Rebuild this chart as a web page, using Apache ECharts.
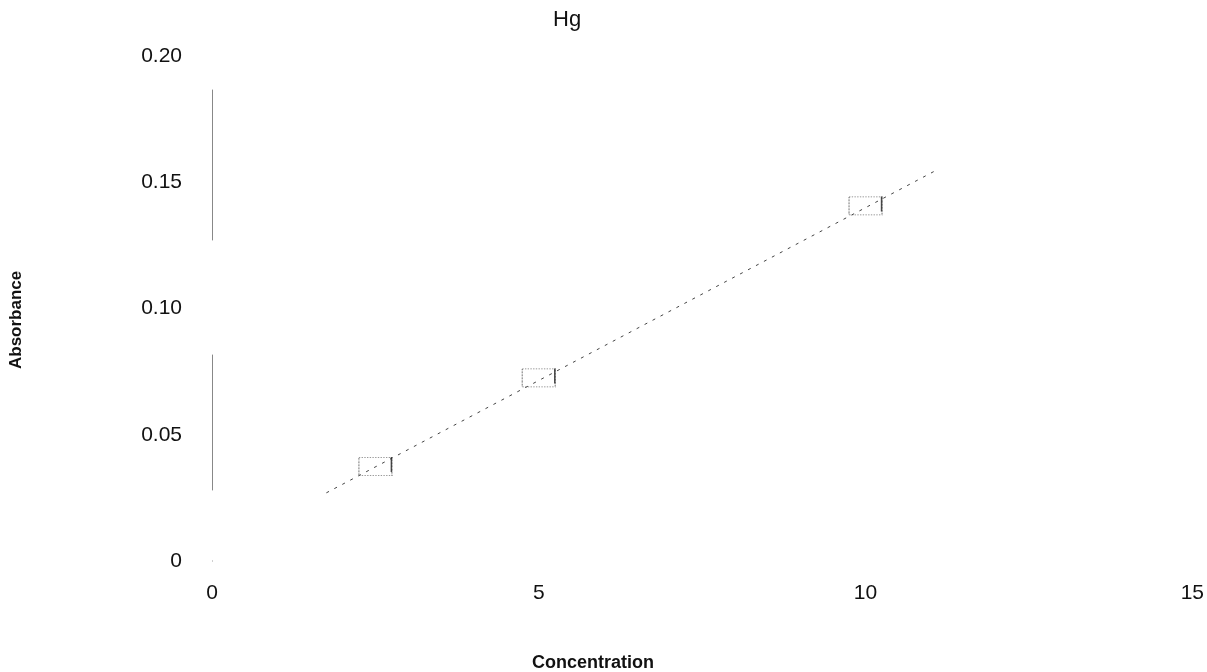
<!DOCTYPE html>
<html>
<head>
<meta charset="utf-8">
<script src="https://cdn.jsdelivr.net/npm/echarts@6/dist/echarts.min.js"></script>
<style>
html,body{margin:0;padding:0;background:#fff;}
#chart{width:1207px;height:672px;}
</style>
</head>
<body>
<div id="chart"></div>
<script>
// Calibration standards (Concentration vs Absorbance)
var concentrations = [2.5, 5, 10];
var absorbances = [0.0374, 0.0725, 0.1406];
// Fitted calibration line end points (visible part)
var fitX = [1.75, 11.1];
var fitY = [0.027, 0.155];
// Tick labels
var xTickLabels = ['0', '5', '10', '15'];
var yTickLabels = ['0', '0.05', '0.10', '0.15', '0.20'];

var font = '"Liberation Sans", Arial, sans-serif';
var chart = echarts.init(document.getElementById('chart'));

var stdData = concentrations.map(function (c, i) { return [c, absorbances[i]]; });
var fitData = fitX.map(function (x, i) { return [x, fitY[i]]; });

chart.setOption({
  backgroundColor: '#fff',
  animation: false,
  title: {
    text: 'Hg',
    left: 548,
    top: 4,
    textStyle: { fontFamily: font, fontSize: 22, fontWeight: 'normal', color: '#111' }
  },
  grid: { left: 212, right: 14, top: 56, bottom: 111, containLabel: false },
  xAxis: {
    type: 'value',
    min: 0, max: 15, interval: 5,
    axisLine: { show: false },
    axisTick: { show: false },
    splitLine: { show: false },
    axisLabel: {
      margin: 22,
      fontFamily: font, fontSize: 21, color: '#111',
      formatter: function (v) { return xTickLabels[Math.round(v / 5)]; }
    }
  },
  yAxis: {
    type: 'value',
    min: 0, max: 0.2, interval: 0.05,
    axisLine: { show: true, lineStyle: { color: '#888', type: [0, 71, 135, 115, 150, 40], width: 1 } },
    axisTick: { show: false },
    splitLine: { show: false },
    axisLabel: {
      margin: 30,
      fontFamily: font, fontSize: 21, color: '#111',
      formatter: function (v) { return yTickLabels[Math.round(v / 0.05)]; }
    }
  },
  graphic: [
    {
      type: 'text', left: 532, top: 654,
      style: { text: 'Concentration', font: 'bold 18px ' + font, fill: '#111' }
    },
    {
      type: 'text', x: 8, y: 369, rotation: Math.PI / 2,
      style: { text: 'Absorbance', font: 'bold 17px ' + font, fill: '#111' }
    }
  ],
  series: [
    {
      type: 'line',
      data: fitData,
      symbol: 'none',
      lineStyle: { color: '#444', width: 1, type: [3, 6] },
      z: 1
    },
    {
      type: 'scatter',
      data: stdData,
      symbol: 'rect',
      symbolSize: [33, 18],
      itemStyle: { color: 'rgba(0,0,0,0)', borderColor: '#555', borderWidth: 1, borderType: 'dotted' },
      z: 2
    },
    {
      type: 'scatter',
      data: stdData,
      symbol: 'rect',
      symbolSize: [1.5, 15],
      symbolOffset: [16, -2],
      itemStyle: { color: '#222' },
      z: 3
    }
  ]
});
</script>
</body>
</html>
